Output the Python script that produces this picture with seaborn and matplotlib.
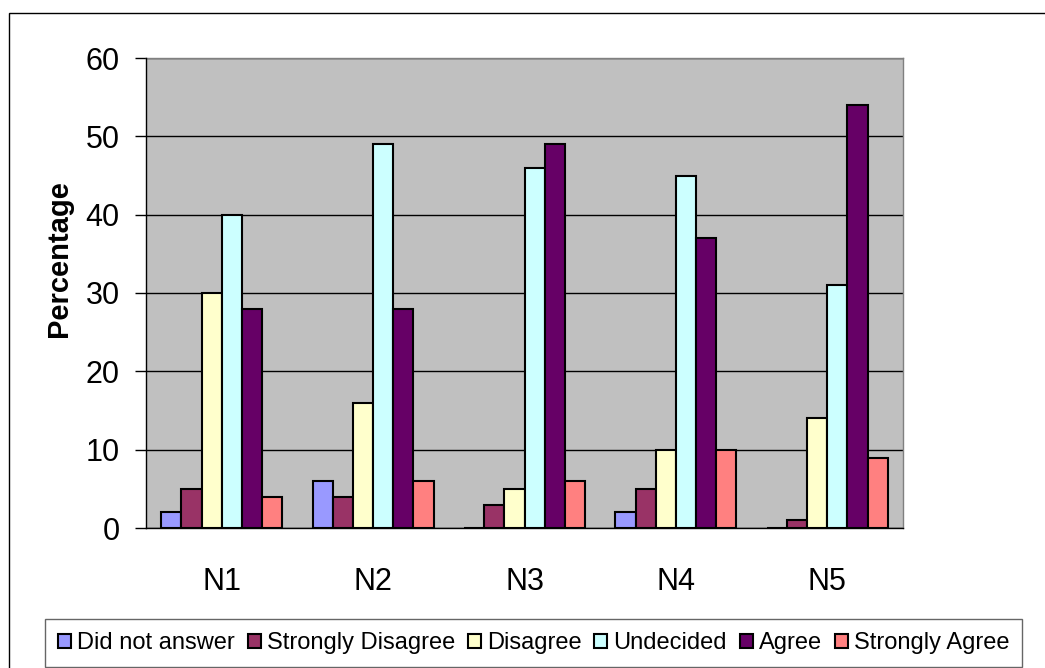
import pandas as pd
import numpy as np
import matplotlib
matplotlib.use('Agg')
import matplotlib.pyplot as plt
import matplotlib.patches as mpatches
import seaborn as sns

# данные
groups = ['N1', 'N2', 'N3', 'N4', 'N5']
answers = ['Did not answer', 'Strongly Disagree', 'Disagree', 'Undecided', 'Agree', 'Strongly Agree']
did_not_answer = [2, 6, 0, 2, 0]
strongly_disagree = [5, 4, 3, 5, 1]
disagree = [30, 16, 5, 10, 14]
undecided = [40, 49, 46, 45, 31]
agree = [28, 28, 49, 37, 54]
strongly_agree = [4, 6, 6, 10, 9]
colors = ['#9999FF', '#993366', '#FFFFCC', '#CCFFFF', '#660066', '#FF8080']

series = [did_not_answer, strongly_disagree, disagree, undecided, agree, strongly_agree]
rows = []
for name, vals in zip(answers, series):
    for g, v in zip(groups, vals):
        rows.append({'group': g, 'answer': name, 'value': v})
df = pd.DataFrame(rows)

sns.set_style('white')
plt.rcParams['font.family'] = ['Liberation Sans', 'DejaVu Sans']
plt.rcParams['text.color'] = 'black'
plt.rcParams['xtick.color'] = 'black'
plt.rcParams['ytick.color'] = 'black'
plt.rcParams['axes.labelcolor'] = 'black'

fig = plt.figure(figsize=(10.45, 6.68), dpi=100)
ax = fig.add_axes([146 / 1045, 1 - 528 / 668, 757 / 1045, 470 / 668])
ax.set_facecolor('#C0C0C0')

sns.barplot(data=df, x='group', y='value', hue='answer', hue_order=answers,
            order=groups, palette=colors, saturation=1, edgecolor='black', linewidth=1.5,
            width=0.8, ax=ax, legend=False, zorder=3)

ax.set_ylim(0, 60)
ax.set_xlim(-0.5, 4.5)
ax.set_yticks(range(0, 61, 10))
ax.yaxis.grid(True, color='black', linewidth=1, zorder=0)
ax.set_axisbelow(True)

ax.set_xticks(range(5))
ax.set_xticklabels(groups)
ax.set_xticks(np.arange(-0.5, 5, 1), minor=True)
ax.tick_params(axis='x', which='major', length=0, pad=28, labelsize=22)
ax.tick_params(axis='x', which='minor', length=8, width=1, color='black', direction='out')
ax.tick_params(axis='y', length=8, width=1, color='black', direction='out', pad=11, labelsize=22, left=True)
ax.set_xlabel('')
ax.set_ylabel('Percentage', fontsize=21, fontweight='bold')
ax.yaxis.set_label_coords(-0.096, 0.574)

for s in ['top', 'right']:
    ax.spines[s].set_color('#808080')
    ax.spines[s].set_linewidth(1)
for s in ['left', 'bottom']:
    ax.spines[s].set_color('black')
    ax.spines[s].set_linewidth(1)
    ax.spines[s].set_zorder(4)

# легенда
handles = [mpatches.Patch(facecolor=c, edgecolor='black', linewidth=1.5, label=a) for a, c in zip(answers, colors)]
leg = fig.legend(handles=handles, ncol=6, loc='center',
                 bbox_to_anchor=((41 + 1026) / 2 / 1045, 1 - 643 / 668),
                 fontsize=17, frameon=True, fancybox=False, edgecolor='#404040',
                 handlelength=0.55, handleheight=0.55, handletextpad=0.25,
                 columnspacing=0.55, borderpad=0.55, borderaxespad=0)
leg.get_frame().set_linewidth(1)

# рамка вокруг всего
fig.patches.append(mpatches.Rectangle((9 / 1045, -0.1), 1.2, 1 - 13 / 668 + 0.1,
                                      transform=fig.transFigure, fill=False,
                                      edgecolor='black', linewidth=1))

fig.savefig('out.png', dpi=100)
